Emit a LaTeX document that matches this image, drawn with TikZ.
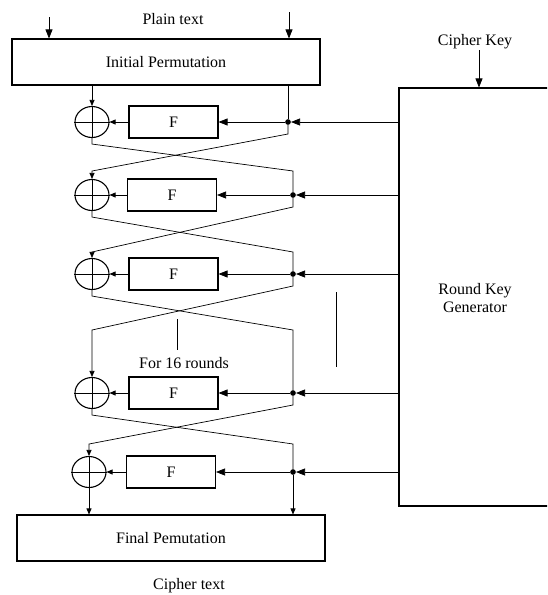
\documentclass[tikz,border=0pt]{standalone}
\usepackage{fontspec}
\setmainfont{Liberation Serif}
\usetikzlibrary{arrows.meta, shapes.geometric}

\begin{document}
\begin{tikzpicture}[
        x=1pt, y=-1pt,
        every node/.style={font=\fontsize{16}{18}\selectfont},
        block/.style={draw, line width=1.1pt, minimum width=308pt, minimum height=46pt},
        fnbox/.style={draw, line width=1.1pt, minimum width=89pt, minimum height=32pt},
        xorop/.style={ellipse, draw, line width=1.1pt, minimum width=34pt, minimum height=31pt, inner sep=0pt},
        junction/.style={circle, fill, inner sep=2pt},
        wire/.style={line width=0.7pt},
        bigarr/.style={wire, -{Triangle[length=9pt, width=7pt]}},
        smallarr/.style={wire, -{Triangle[length=6pt, width=5pt]}}
    ]
        \useasboundingbox (0,0) rectangle (547,595);
        \clip (0,0) rectangle (547,595);

        % Input side
        \node (plain) at (173,19) {Plain text};
        \node[block] (ip) at (166,62) {Initial Permutation};
        \coordinate (pin1) at (49,17);
        \coordinate (pin2) at (289,12);
        \draw[bigarr] (pin1) -- (pin1 |- ip.north);
        \draw[bigarr] (pin2) -- (pin2 |- ip.north);

        % Key schedule block (runs off the right edge)
        \node (ck) at (475,42) {Cipher Key};
        \node[draw, line width=1.1pt, minimum width=181pt, minimum height=418pt] (rkg) at (489.5,297) {};
        \node[align=center] (rkglabel) at (475,298) {Round Key\\Generator};
        \coordinate (ckin) at (479,50);
        \draw[bigarr] (ckin) -- (ckin |- rkg.north);

        % The rounds: xor, F box, junction on the right half
        \foreach \i/\y/\xx/\fx/\dx in {1/122/92/173.5/288, 2/195/92/172/293, 3/274/92/173.5/293,
                                       4/393/92/173.5/293, 5/472/89/171/293} {
            \node[xorop] (x\i) at (\xx,\y) {};
            \node[fnbox] (f\i) at (\fx,\y) {F};
            \node[junction] (d\i) at (\dx,\y) {};
            \draw[line width=1pt] (x\i.north) -- (x\i.south) (x\i.west) -- (x\i.east);
            \draw[bigarr] (d\i -| rkg.west) -- (d\i);
            \draw[bigarr] (d\i) -- (f\i);
            \draw[smallarr] (f\i) -- (x\i);
        }

        \draw[smallarr] (ip.south -| x1) -- (x1);
        \draw[wire] (ip.south -| d1) -- (d1);

        % Swap of the two halves between rounds
        \foreach \i/\j/\yc in {1/2/171, 2/3/252, 3/4/330, 4/5/444} {
            \draw[wire] (x\i.south) -- ++(0,6) -- (d\j |- 0,\yc) -- (d\j);
            \draw[smallarr] (d\i) -- ++(0,12) -- (x\j |- 0,\yc) -- (x\j);
        }

        % Skipped rounds
        \node (rounds) at (184,363) {For 16 rounds};
        \draw[line width=1pt] (177,319) -- (177,350);
        \draw[line width=1pt] (336,292) -- (336,367);

        % Output side
        \node[block] (fp) at (171,538) {Final Pemutation};
        \draw[smallarr] (x5) -- (x5 |- fp.north);
        \draw[smallarr] (d5) -- (d5 |- fp.north);
        \node[anchor=base] (ct) at (189,589) {Cipher text};
\end{tikzpicture}
\end{document}
